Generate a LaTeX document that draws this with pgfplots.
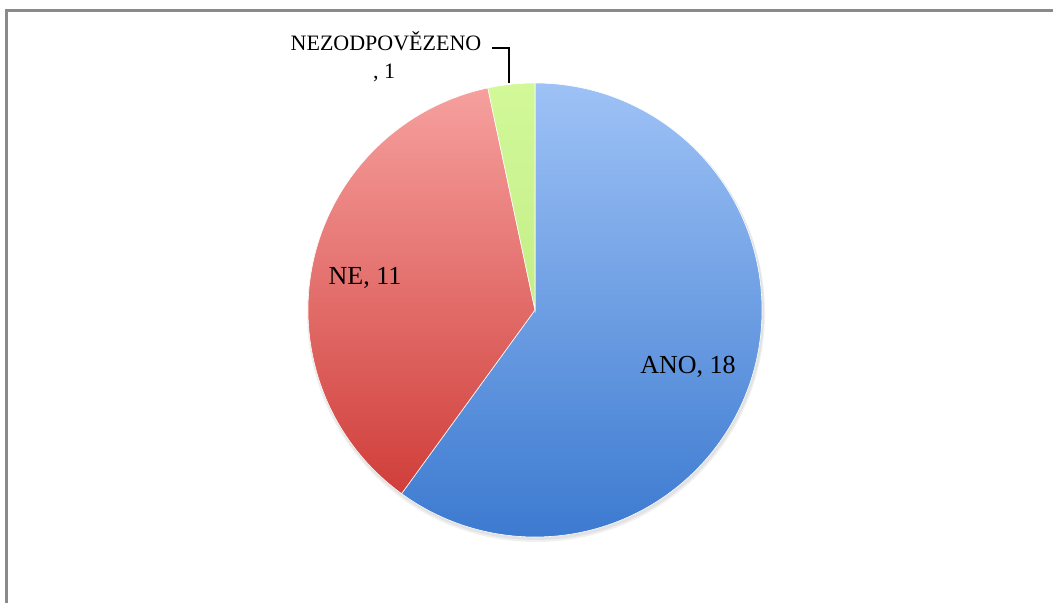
\documentclass[border=0pt]{standalone}
\usepackage{pgfplots}
\usepackage{pgfplotstable}
\pgfplotsset{compat=1.18}
\usepackage{fontspec}
\setmainfont{Liberation Serif}
\definecolor{anoTop}{RGB}{158,194,246}
\definecolor{anoBot}{RGB}{60,122,208}
\definecolor{neTop}{RGB}{246,160,158}
\definecolor{neBot}{RGB}{208,62,58}
\definecolor{nzTop}{RGB}{210,248,152}
\definecolor{nzBot}{RGB}{196,238,136}
\definecolor{frameGray}{RGB}{138,138,138}
\pgfplotstableread{
label value
ANO 18
NE 11
NEZ 1
}\pietable
\begin{document}
\begin{tikzpicture}
\pgfplotstablegetelem{0}{value}\of\pietable \let\vA\pgfplotsretval
\pgfplotstablegetelem{1}{value}\of\pietable \let\vB\pgfplotsretval
\pgfplotstablegetelem{2}{value}\of\pietable \let\vC\pgfplotsretval
\pgfmathsetmacro{\tot}{\vA+\vB+\vC}
\pgfmathsetmacro{\aA}{90-360*\vA/\tot}
\pgfmathsetmacro{\aB}{\aA-360*\vB/\tot}
\pgfmathsetmacro{\aC}{\aB-360*\vC/\tot}
\def\R{113.5pt}
\begin{axis}[at={(0,0)},anchor=south west,scale only axis,
  width=526.5pt,height=301.5pt,xmin=0,xmax=1053,ymin=0,ymax=603,
  hide axis,clip=false]
% soft shadow
\fill[black,opacity=0.06] (axis cs:536,290) circle[radius=114.5pt];
\fill[black,opacity=0.06] (axis cs:536,291) circle[radius=114pt];
% slices
\shade[top color=anoTop,bottom color=anoBot,draw=white,line width=0.3pt]
  (axis cs:535,293) -- ++(90:\R) arc[start angle=90,end angle=\aA,radius=\R] -- cycle;
\shade[top color=neTop,bottom color=neBot,draw=white,line width=0.3pt]
  (axis cs:535,293) -- ++(\aA:\R) arc[start angle=\aA,end angle=\aB,radius=\R] -- cycle;
\shade[top color=nzTop,bottom color=nzBot,draw=white,line width=0.3pt]
  (axis cs:535,293) -- ++(\aB:\R) arc[start angle=\aB,end angle=\aC,radius=\R] -- cycle;
% labels
\node[font=\fontsize{13pt}{15pt}\selectfont] at (axis cs:688,236) {ANO, \vA};
\node[font=\fontsize{13pt}{15pt}\selectfont] at (axis cs:365,325) {NE, \vB};
\node[font=\fontsize{11pt}{13pt}\selectfont] at (axis cs:386,562) {NEZODPOVĚZENO};
\node[font=\fontsize{11pt}{13pt}\selectfont] at (axis cs:384,530) {, \vC};
\draw[black,line width=1pt] (axis cs:492,555) -- (axis cs:509,555) -- (axis cs:509,520);
\end{axis}
\pgfresetboundingbox
\useasboundingbox (0,0) rectangle (526.5pt,301.5pt);
\draw[frameGray,line width=1.5pt] (3pt,-10pt) -- (3pt,296pt) -- (540pt,296pt);
\end{tikzpicture}
\end{document}
